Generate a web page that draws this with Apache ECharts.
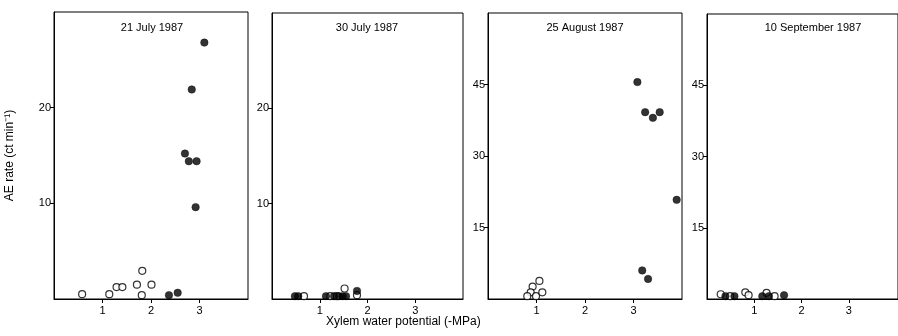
<!DOCTYPE html>
<html>
<head>
<meta charset="utf-8">
<script src="https://cdn.jsdelivr.net/npm/echarts@6/dist/echarts.min.js"></script>
<style>
  html, body { margin: 0; padding: 0; background: #fff; }
  #chart { width: 898px; height: 336px; }
</style>
</head>
<body>
<div id="chart"></div>
<script>
// panel titles and axis set-up
const titles = ['21 July 1987', '30 July 1987', '25 August 1987', '10 September 1987']
const xTicks = [1, 2, 3]
const yMax = [30, 30, 60, 60]
const yTicks = [[10, 20], [10, 20], [15, 30, 45], [15, 30, 45]]

// [xylem water potential (-MPa), AE rate]
const jul21Open = [[0.58, 0.5], [1.14, 0.5], [1.29, 1.25], [1.41, 1.25], [1.71, 1.5], [1.82, 2.95], [1.81, 0.4], [2.01, 1.5]]
const jul21Filled = [[2.37, 0.4], [2.55, 0.65], [2.70, 15.2], [2.78, 14.4], [2.94, 14.4], [2.84, 21.9], [2.92, 9.6], [3.10, 26.8]]

const jul30Open = [[0.67, 0.3], [1.22, 0.3], [1.36, 0.3], [1.52, 1.1], [1.78, 0.4]]
const jul30Filled = [[0.48, 0.3], [0.55, 0.3], [1.13, 0.3], [1.30, 0.3], [1.40, 0.3], [1.48, 0.3], [1.55, 0.3], [1.78, 0.85]]

const aug25Open = [[1.06, 3.8], [0.92, 2.6], [0.88, 1.4], [0.81, 0.6], [0.99, 0.6], [1.12, 1.4]]
const aug25Filled = [[3.08, 45.5], [3.24, 39.2], [3.40, 38.0], [3.54, 39.2], [3.89, 20.8], [3.18, 6.0], [3.30, 4.2]]

const sep10Open = [[0.29, 1.0], [0.49, 0.6], [0.81, 1.4], [0.88, 0.8], [1.26, 1.3], [1.43, 0.6]]
const sep10Filled = [[0.39, 0.6], [0.58, 0.6], [1.17, 0.6], [1.31, 0.6], [1.63, 0.8]]

const openSets = [jul21Open, jul30Open, aug25Open, sep10Open]
const filledSets = [jul21Filled, jul30Filled, aug25Filled, sep10Filled]

const font = 'Liberation Sans, Arial, sans-serif'
const boxes = [
  { left: 54, top: 12, width: 194, height: 287 },
  { left: 272, top: 13, width: 191, height: 286 },
  { left: 488, top: 13, width: 194, height: 286 },
  { left: 707, top: 14, width: 196, height: 285 }
]
const titleX = [152, 367, 585, 813]

const grid = []
const xAxis = []
const yAxis = []
const series = []
const title = []

boxes.forEach((b, i) => {
  grid.push({
    left: b.left, top: b.top, width: b.width, height: b.height,
    show: true, borderColor: '#000', borderWidth: 1, backgroundColor: 'transparent'
  })
  xAxis.push({
    gridIndex: i, type: 'value', min: 0, max: i === 3 ? 4.04 : 4,
    axisLine: { lineStyle: { color: '#000', width: 1 } },
    axisTick: { inside: false, length: 4, lineStyle: { color: '#000' }, customValues: xTicks },
    axisLabel: { color: '#000', fontFamily: font, fontSize: 11, margin: 6, customValues: xTicks },
    splitLine: { show: false }
  })
  const y = {
    gridIndex: i, type: 'value', min: 0, max: yMax[i],
    axisLine: { lineStyle: { color: '#000', width: 1 } },
    axisTick: { inside: false, length: 4, lineStyle: { color: '#000' }, customValues: yTicks[i] },
    axisLabel: { color: '#000', fontFamily: font, fontSize: 11, margin: 3, customValues: yTicks[i] },
    splitLine: { show: false }
  }
  if (i === 0) {
    y.name = 'AE rate (ct min\u207B\u00B9)'
    y.nameLocation = 'middle'
    y.nameGap = 38
    y.nameRotate = 90
    y.nameTextStyle = { color: '#000', fontFamily: font, fontSize: 12 }
  }
  yAxis.push(y)
  title.push({
    text: titles[i], left: titleX[i], top: 22, textAlign: 'center', padding: 0,
    textStyle: { color: '#000', fontFamily: font, fontSize: 11, fontWeight: 'normal' }
  })
  series.push({
    type: 'scatter', xAxisIndex: i, yAxisIndex: i, data: openSets[i],
    symbol: 'circle', symbolSize: 7, clip: false,
    itemStyle: { color: '#fff', borderColor: '#000', borderWidth: 1.2 }
  })
  series.push({
    type: 'scatter', xAxisIndex: i, yAxisIndex: i, data: filledSets[i],
    symbol: 'circle', symbolSize: 7.5, clip: false,
    itemStyle: { color: '#000', borderColor: '#000', borderWidth: 0.5 }
  })
})

const chart = echarts.init(document.getElementById('chart'), null, { renderer: 'canvas' })
chart.setOption({
  backgroundColor: '#fff',
  animation: false,
  title: title,
  grid: grid,
  xAxis: xAxis,
  yAxis: yAxis,
  series: series,
  graphic: [{
    type: 'text', left: 326, top: 316,
    style: { text: 'Xylem water potential (-MPa)', fill: '#000', font: '12px ' + font }
  }]
})
</script>
</body>
</html>
